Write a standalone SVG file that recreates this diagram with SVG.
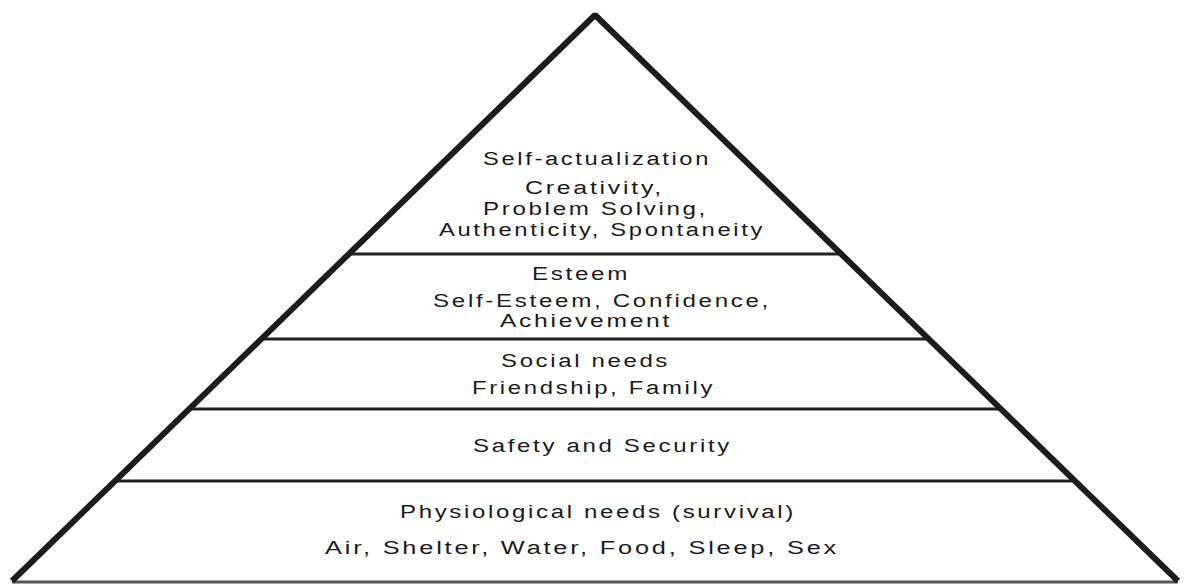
<svg xmlns="http://www.w3.org/2000/svg" width="1184" height="584" viewBox="0 0 1184 584">
  <style>
    .outline { fill: none; stroke: #1c1c1c; stroke-width: 6; stroke-linejoin: bevel; }
    .divider { stroke: #222; stroke-width: 3; }
    .base { stroke: #555; stroke-width: 3; }
    .lbl { font-family: "Liberation Sans", Arial, sans-serif; font-size: 18px; letter-spacing: 2px; fill: #1a1a1a; }
  </style>
  <rect width="1184" height="584" fill="#fff"/>

  <!-- tier dividers -->
  <g id="dividers">
    <line class="divider" x1="349" y1="254" x2="841" y2="254"/>
    <line class="divider" x1="261" y1="339" x2="929" y2="339"/>
    <line class="divider" x1="189" y1="409" x2="1001" y2="409"/>
    <line class="divider" x1="115" y1="481" x2="1075" y2="481"/>
    <line class="base" x1="12" y1="582" x2="1178" y2="582"/>
  </g>

  <!-- pyramid sides -->
  <path id="pyramid" class="outline" d="M 12 581 L 595 15 L 1178 581"/>

  <g id="tier-self-actualization">
    <text class="lbl" x="483" y="165" textLength="228" lengthAdjust="spacingAndGlyphs">Self-actualization</text>
    <text class="lbl" x="525" y="194" textLength="139" lengthAdjust="spacingAndGlyphs">Creativity,</text>
    <text class="lbl" x="483" y="215" textLength="225" lengthAdjust="spacingAndGlyphs">Problem Solving,</text>
    <text class="lbl" x="439" y="236" textLength="326" lengthAdjust="spacingAndGlyphs">Authenticity, Spontaneity</text>
  </g>

  <g id="tier-esteem">
    <text class="lbl" x="532" y="280" textLength="98" lengthAdjust="spacingAndGlyphs">Esteem</text>
    <text class="lbl" x="433" y="307" textLength="338" lengthAdjust="spacingAndGlyphs">Self-Esteem, Confidence,</text>
    <text class="lbl" x="500" y="327" textLength="172" lengthAdjust="spacingAndGlyphs">Achievement</text>
  </g>

  <g id="tier-social">
    <text class="lbl" x="501" y="367" textLength="169" lengthAdjust="spacingAndGlyphs">Social needs</text>
    <text class="lbl" x="472" y="394" textLength="243" lengthAdjust="spacingAndGlyphs">Friendship, Family</text>
  </g>

  <g id="tier-safety">
    <text class="lbl" x="473" y="452" textLength="259" lengthAdjust="spacingAndGlyphs">Safety and Security</text>
  </g>

  <g id="tier-physiological">
    <text class="lbl" x="400" y="518" textLength="396" lengthAdjust="spacingAndGlyphs">Physiological needs (survival)</text>
    <text class="lbl" x="325" y="554" textLength="514" lengthAdjust="spacingAndGlyphs">Air, Shelter, Water, Food, Sleep, Sex</text>
  </g>
</svg>
